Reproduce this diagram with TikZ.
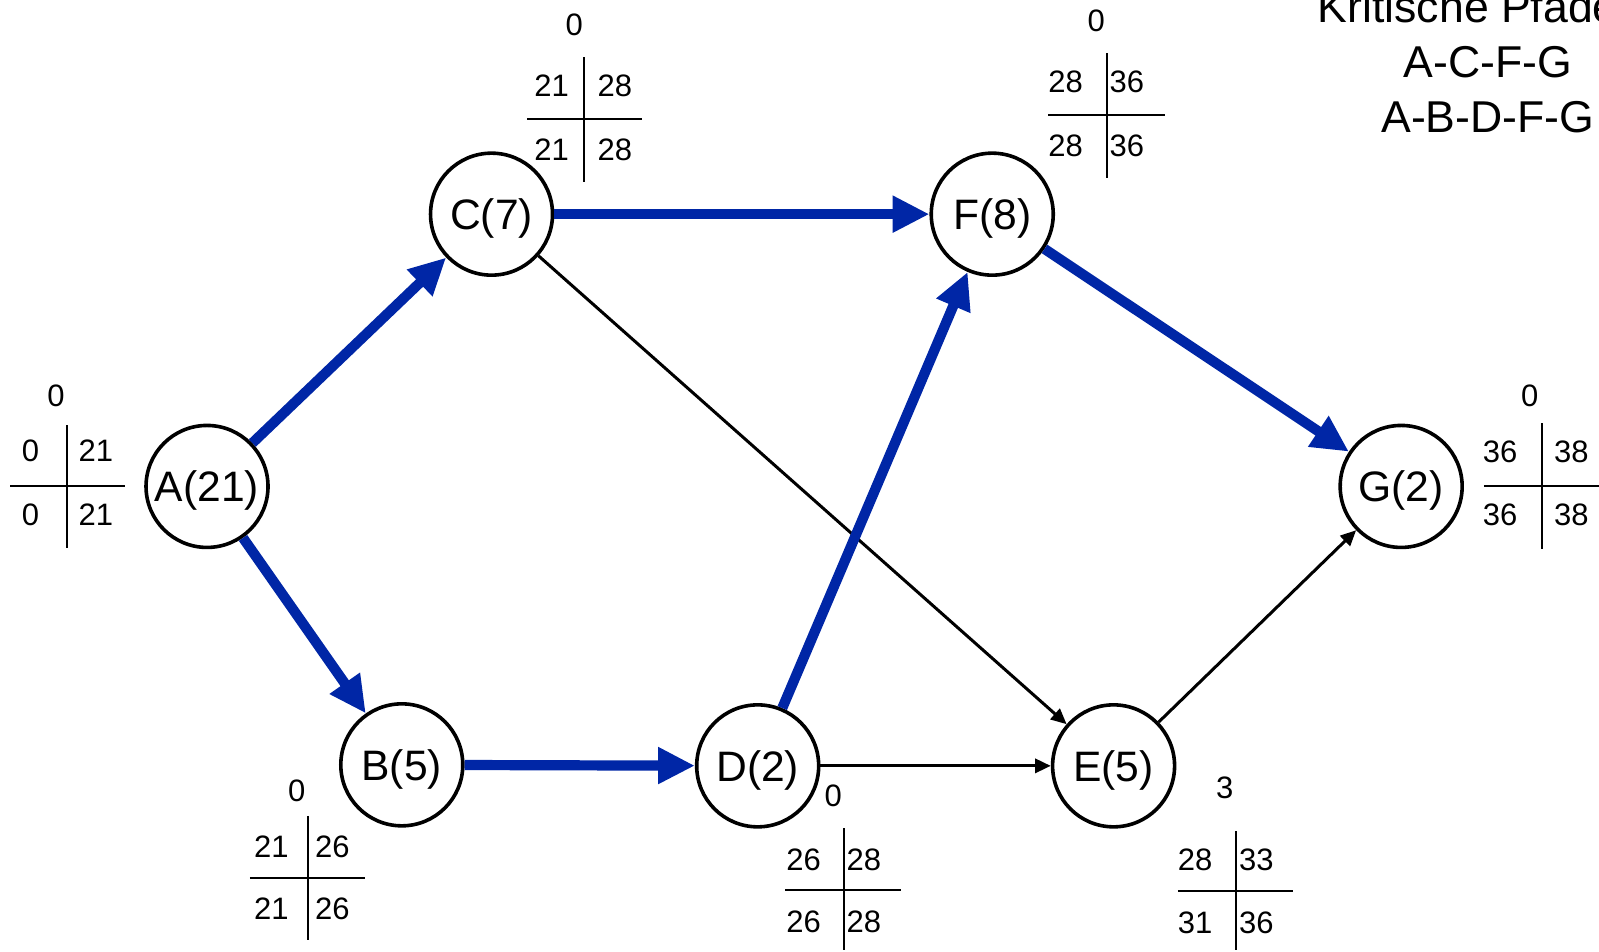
\documentclass[tikz,border=0pt]{standalone}
\usepackage{fontspec}
\setmainfont{Liberation Sans}
\usetikzlibrary{arrows.meta, positioning}
\definecolor{kritblau}{RGB}{0,38,166}
\tikzstyle{kreis} = [circle, draw, line width=1.8pt, minimum size=61pt, inner sep=0pt, text depth=0pt, font=\fontsize{21.3}{25}\selectfont]
\tikzstyle{kritisch} = [draw=kritblau, line width=5.1pt, -{Triangle[length=18.4pt, width=17.3pt]}]
\tikzstyle{pfeil} = [draw, line width=1.5pt, -{Triangle[length=7.8pt, width=7pt]}]
\tikzstyle{zahl} = [inner sep=0pt, font=\fontsize{15.5}{18}\selectfont]
\tikzstyle{kreuz} = [draw, line width=1pt]

\begin{document}
\begin{tikzpicture}[x=0.5099pt, y=-0.5099pt]
        \useasboundingbox (0,0) rectangle (1568,932.6);

        \node[kreis] (a) at (203,477) {A(21)};
        \node[kreis] (c) at (482,210) {C(7)};
        \node[kreis] (f) at (973,210) {F(8)};
        \node[kreis] (g) at (1374,477) {G(2)};
        \node[kreis] (b) at (394,750) {B(5)};
        \node[kreis] (d) at (743,751) {D(2)};
        \node[kreis] (e) at (1092,751) {E(5)};

        \path[pfeil] (c) -- (e);
        \path[pfeil] (d) -- (e);
        \path[pfeil] (e) -- (g);

        \path[kritisch] (a) -- (c);
        \path[kritisch] (a) -- (b);
        \path[kritisch] (c) -- (f);
        \path[kritisch] (b) -- (d);
        \path[kritisch] (d) -- (f);
        \path[kritisch] (f) -- (g);

        % A
        \path[kreuz] (66,417) -- (66,537);
        \path[kreuz] (10,477) -- (123,477);
        \node[zahl] (a-p) at (55,388) {0};
        \node[zahl] (a-faz) at (30,442) {0};
        \node[zahl] (a-fez) at (94,442) {21};
        \node[zahl] (a-saz) at (30,505) {0};
        \node[zahl] (a-sez) at (94,505) {21};

        % C
        \path[kreuz] (573,56) -- (573,178);
        \path[kreuz] (517,117) -- (630,117);
        \node[zahl] (c-p) at (563,24) {0};
        \node[zahl] (c-faz) at (541,84) {21};
        \node[zahl] (c-fez) at (603,84) {28};
        \node[zahl] (c-saz) at (541,147) {21};
        \node[zahl] (c-sez) at (603,147) {28};

        % F
        \path[kreuz] (1086,52) -- (1086,175);
        \path[kreuz] (1028,113) -- (1142,113);
        \node[zahl] (f-p) at (1075,20) {0};
        \node[zahl] (f-faz) at (1045,80) {28};
        \node[zahl] (f-fez) at (1105,80) {36};
        \node[zahl] (f-saz) at (1045,143) {28};
        \node[zahl] (f-sez) at (1105,143) {36};

        % G
        \path[kreuz] (1512,415) -- (1512,538);
        \path[kreuz] (1455,477) -- (1568,477);
        \node[zahl] (g-p) at (1500,388) {0};
        \node[zahl] (g-faz) at (1471,443) {36};
        \node[zahl] (g-fez) at (1541,443) {38};
        \node[zahl] (g-saz) at (1471,505) {36};
        \node[zahl] (g-sez) at (1541,505) {38};

        % B
        \path[kreuz] (302,800) -- (302,922);
        \path[kreuz] (245,861) -- (358,861);
        \node[zahl] (b-p) at (291,775) {0};
        \node[zahl] (b-faz) at (266,830) {21};
        \node[zahl] (b-fez) at (326,830) {26};
        \node[zahl] (b-saz) at (266,891) {21};
        \node[zahl] (b-sez) at (326,891) {26};

        % D
        \path[kreuz] (828,812) -- (828,932);
        \path[kreuz] (770,873) -- (884,873);
        \node[zahl] (d-p) at (817,780) {0};
        \node[zahl] (d-faz) at (788,843) {26};
        \node[zahl] (d-fez) at (847,843) {28};
        \node[zahl] (d-saz) at (788,904) {26};
        \node[zahl] (d-sez) at (847,904) {28};

        % E
        \path[kreuz] (1212,815) -- (1212,932);
        \path[kreuz] (1155,874) -- (1268,874);
        \node[zahl] (e-p) at (1201,773) {3};
        \node[zahl] (e-faz) at (1172,843) {28};
        \node[zahl] (e-fez) at (1232,843) {33};
        \node[zahl] (e-saz) at (1172,905) {31};
        \node[zahl] (e-sez) at (1232,905) {36};

        \node[font=\fontsize{22.3}{27.5}\selectfont, align=center, anchor=base] (pfade) at (1459,130) {Kritische Pfade\hspace*{0.9em}\\A-C-F-G\\A-B-D-F-G};
    \end{tikzpicture}
\end{document}
